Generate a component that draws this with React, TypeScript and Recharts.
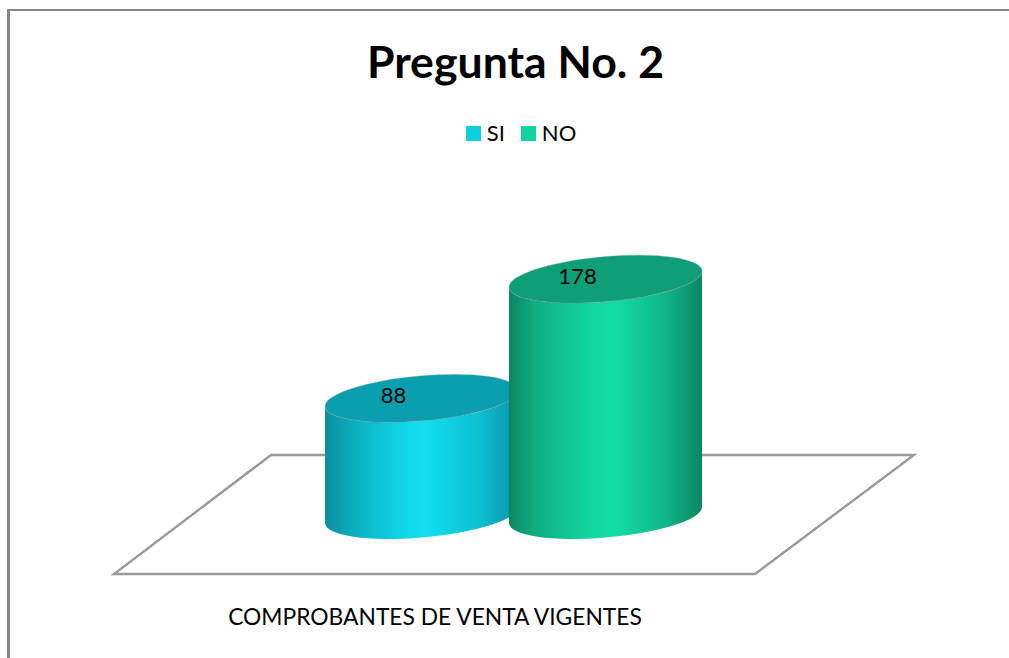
import React from "react";
import { BarChart, Bar, XAxis, YAxis, LabelList, Legend, usePlotArea } from "recharts";

const categories = ["COMPROBANTES DE VENTA VIGENTES"];
const siValues = [88];
const noValues = [178];
const seriesNames = ["SI", "NO"];
const seriesColors = ["#0cd0e0", "#10d4a0"];

const chartData = categories.map((name, i) => ({
    name,
    SI: siValues[i],
    NO: noValues[i],
}));

const FONT = "Lato, 'Open Sans', sans-serif";
const LEGEND_HEIGHT = 26;

// tilted ellipse proportions, relative to the bar width
const TILT = -5;
const RX = 0.5018;
const RY = 0.1166;
const EDGE_DY = 0.0415;

const Cylinder = (props: any) => {
    const { x, y, width, height, gradient, top } = props;
    const cx = x + width / 2;
    const rx = width * RX;
    const ry = width * RY;
    const dy = width * EDGE_DY;
    const right = x + width;
    const bottom = y + height;
    const body = [
        `M ${x} ${y + dy}`,
        `L ${x} ${bottom + dy}`,
        `A ${rx} ${ry} ${TILT} 0 0 ${right} ${bottom - dy}`,
        `L ${right} ${y - dy}`,
        `A ${rx} ${ry} ${TILT} 0 1 ${x} ${y + dy}`,
        "Z",
    ].join(" ");
    return (
        <g>
            <path d={body} fill={`url(#${gradient})`} />
            <ellipse
                cx={cx}
                cy={y}
                rx={rx}
                ry={ry}
                fill={top}
                stroke="#7f9a96"
                strokeOpacity={0.35}
                transform={`rotate(${TILT} ${cx} ${y})`}
            />
        </g>
    );
};

// slanted floor under the cylinders, placed from the plot area
const Floor = () => {
    const plot = usePlotArea();
    if (!plot) return null;
    const base = plot.y + plot.height;
    const left = plot.x;
    const right = plot.x + plot.width;
    const points = [
        [left + 158, base - 60],
        [right, base - 60],
        [right - 159, base + 59],
        [left + 1, base + 59],
    ]
        .map((p) => p.join(","))
        .join(" ");
    return <polygon points={points} fill="#fff" stroke="#999" strokeWidth={2.4} />;
};

const CategoryTick = (props: any) => {
    const { x, payload } = props;
    return (
        <text x={x - 78.5} y={625} textAnchor="middle" fontFamily={FONT} fontSize={22.8} fill="#000">
            {payload.value}
        </text>
    );
};

const LegendRow = () => (
    <div style={{ display: "flex", justifyContent: "center", height: LEGEND_HEIGHT, lineHeight: `${LEGEND_HEIGHT}px`, fontFamily: FONT, fontSize: 22, color: "#000" }}>
        {seriesNames.map((name, i) => (
            <div key={name} style={{ display: "flex", alignItems: "center", marginRight: i === 0 ? 16 : 0 }}>
                <span style={{ width: 15, height: 15, background: seriesColors[i], marginRight: 6 }} />
                {name}
            </div>
        ))}
    </div>
);

const App = () => {
    return (
        <div style={{ position: "absolute", left: 0, top: 0, width: 1009, height: 658, overflow: "hidden", background: "#fff" }}>
            <div style={{ position: "absolute", left: 7, top: 9, width: 1002, height: 2, background: "#868686" }} />
            <div style={{ position: "absolute", left: 7, top: 9, width: 3, height: 649, background: "#868686" }} />
            <BarChart
                width={1009}
                height={658}
                data={chartData}
                margin={{ top: 250 - LEGEND_HEIGHT, right: 95, bottom: 0, left: 113 }}
                barSize={193}
                barGap={-9}
            >
                <defs>
                    <linearGradient id="siFill" x1="0" y1="0" x2="1" y2="0">
                        <stop offset="0" stopColor="#0a8f9f" />
                        <stop offset="0.18" stopColor="#0bb4c5" />
                        <stop offset="0.42" stopColor="#0fd8ea" />
                        <stop offset="0.52" stopColor="#10def0" />
                        <stop offset="0.8" stopColor="#0cc0d1" />
                        <stop offset="1" stopColor="#0a94a6" />
                    </linearGradient>
                    <linearGradient id="noFill" x1="0" y1="0" x2="1" y2="0">
                        <stop offset="0" stopColor="#0a8660" />
                        <stop offset="0.13" stopColor="#0fae82" />
                        <stop offset="0.42" stopColor="#11d69f" />
                        <stop offset="0.55" stopColor="#12dca4" />
                        <stop offset="0.82" stopColor="#0fb487" />
                        <stop offset="1" stopColor="#0a8660" />
                    </linearGradient>
                </defs>
                <text x={515.5} y={78} textAnchor="middle" fontFamily={FONT} fontWeight={700} fontSize={44.6} fill="#000">
                    Pregunta No. 2
                </text>
                <Floor />
                <XAxis
                    dataKey="name"
                    height={143}
                    axisLine={false}
                    tickLine={false}
                    interval={0}
                    tick={<CategoryTick />}
                />
                <YAxis hide domain={[0, 200]} />
                <Legend
                    verticalAlign="top"
                    wrapperStyle={{ position: "absolute", top: 120, left: 0, width: 1042 }}
                    content={<LegendRow />}
                />
                <Bar
                    dataKey="SI"
                    isAnimationActive={false}
                    fill={seriesColors[0]}
                    shape={<Cylinder gradient="siFill" top="#0a9fae" />}
                >
                    <LabelList dataKey="SI" position="top" dx={-28} dy={9.5} fontFamily={FONT} fontSize={22} fill="#000" />
                </Bar>
                <Bar
                    dataKey="NO"
                    isAnimationActive={false}
                    fill={seriesColors[1]}
                    shape={<Cylinder gradient="noFill" top="#0f9f76" />}
                >
                    <LabelList dataKey="NO" position="top" dx={-28} dy={9.5} fontFamily={FONT} fontSize={22} fill="#000" />
                </Bar>
            </BarChart>
        </div>
    );
};

export default App;
